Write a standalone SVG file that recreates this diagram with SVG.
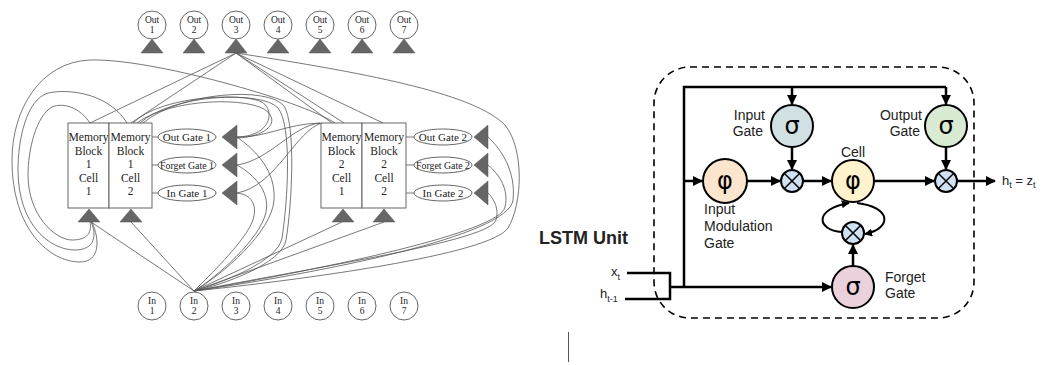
<svg xmlns="http://www.w3.org/2000/svg" width="1043" height="365" viewBox="0 0 1043 365">
<style>
.gl{fill:none;stroke:#555;stroke-width:0.8}
.nd{fill:#fff;stroke:#555;stroke-width:0.9}
.tri{fill:#666;stroke:#555;stroke-width:0.5}
.st{font-family:"Liberation Serif",serif;fill:#222;text-anchor:middle}
.sm{font-size:11px}
.xs{font-size:9.5px}
.mb{font-size:11.5px}
.ln{fill:none;stroke:#000;stroke-width:2.5}
.ls{font-family:"Liberation Sans",Arial,sans-serif;fill:#222}
.gate{stroke:#000;stroke-width:2}
.mul{fill:#cfe2f3;stroke:#000;stroke-width:2}
.sym{font-family:"DejaVu Sans",sans-serif;font-size:24px;text-anchor:middle;fill:#000}
</style>
<defs>
<marker id="ah" viewBox="0 0 10 10" refX="9" refY="5" markerWidth="4" markerHeight="4" orient="auto" markerUnits="strokeWidth"><path d="M0,0 L10,5 L0,10 z" fill="#000"/></marker>
</defs>
<rect width="1043" height="365" fill="#fff"/>

<!-- left connectors -->
<g id="connectors-left">
<path class="gl" d="M236,53 L90,123"/>
<path class="gl" d="M236,53 L131,123"/>
<path class="gl" d="M236,53 L332,123"/>
<path class="gl" d="M236,53 L344,123"/>
<path class="gl" d="M236,53 L383,123"/>
<path class="gl" d="M236,53 C380,75 475,95 505,125 C525,150 522,205 508,228 C490,255 300,280 194,291"/>
<path class="gl" d="M335,123 C300,100 150,58 90,60 C40,62 12,110 12,160 C12,230 50,262 80,262 C100,262 100,240 92,222"/>
<path class="gl" d="M127,123 C110,95 72,88 48,93 C26,100 18,140 18,170 C18,225 50,250 75,250 C95,250 97,235 91,222"/>
<path class="gl" d="M90,123 C80,108 64,102 52,107 C36,116 28,150 28,175 C28,215 55,240 72,240 C88,240 92,232 90,222"/>
<path class="gl" d="M133,123 C160,96 240,92 262,102 C275,110 272,136 237,137"/>
<path class="gl" d="M137,123 C170,98 252,96 268,112 C280,125 262,137 237,138"/>
<path class="gl" d="M140,123 C172,94 262,90 278,108 C292,125 288,200 282,238 C278,262 220,283 194,291"/>
<path class="gl" d="M143,123 C180,92 268,86 284,106 C296,125 292,205 286,240 C282,264 222,285 194,291"/>
<path class="gl" d="M237,137 C265,138 285,124 320,123"/>
<path class="gl" d="M237,165 C270,160 292,126 320,123"/>
<path class="gl" d="M237,193 C276,186 296,130 322,123"/>
<path class="gl" d="M237,137 C255,150 276,170 274,200 C272,232 222,275 194,291"/>
<path class="gl" d="M237,165 C255,175 270,192 266,212 C261,238 216,278 194,291"/>
<path class="gl" d="M237,193 C258,195 258,215 248,230 C236,250 205,280 194,291"/>
<path class="gl" d="M194,291 L91,222"/>
<path class="gl" d="M194,291 L131,222"/>
<path class="gl" d="M194,291 L342,222"/>
<path class="gl" d="M194,291 L384,222"/>
<path class="gl" d="M488,137 C502,150 516,172 513,200 C509,236 320,273 194,291"/>
<path class="gl" d="M488,165 C500,175 509,190 505,207 C500,232 330,268 194,291"/>
<path class="gl" d="M488,193 C495,200 499,210 496,220 C490,240 340,263 194,291"/>
<path class="gl" d="M152,137 H158 M152,165 H158 M152,193 H158 M406,137 H414 M406,165 H414 M406,193 H414"/>
</g>

<!-- Out nodes -->
<g id="out1"><circle class="nd" cx="152" cy="25" r="14"/><text class="st xs" x="152" y="22.5">Out<tspan x="152" dy="10.5">1</tspan></text><path class="tri" d="M152,39 L141,53 L163,53 z"/></g>
<g id="out2"><circle class="nd" cx="194" cy="25" r="14"/><text class="st xs" x="194" y="22.5">Out<tspan x="194" dy="10.5">2</tspan></text><path class="tri" d="M194,39 L183,53 L205,53 z"/></g>
<g id="out3"><circle class="nd" cx="236" cy="25" r="14"/><text class="st xs" x="236" y="22.5">Out<tspan x="236" dy="10.5">3</tspan></text><path class="tri" d="M236,39 L225,53 L247,53 z"/></g>
<g id="out4"><circle class="nd" cx="278" cy="25" r="14"/><text class="st xs" x="278" y="22.5">Out<tspan x="278" dy="10.5">4</tspan></text><path class="tri" d="M278,39 L267,53 L289,53 z"/></g>
<g id="out5"><circle class="nd" cx="320" cy="25" r="14"/><text class="st xs" x="320" y="22.5">Out<tspan x="320" dy="10.5">5</tspan></text><path class="tri" d="M320,39 L309,53 L331,53 z"/></g>
<g id="out6"><circle class="nd" cx="362" cy="25" r="14"/><text class="st xs" x="362" y="22.5">Out<tspan x="362" dy="10.5">6</tspan></text><path class="tri" d="M362,39 L351,53 L373,53 z"/></g>
<g id="out7"><circle class="nd" cx="404" cy="25" r="14"/><text class="st xs" x="404" y="22.5">Out<tspan x="404" dy="10.5">7</tspan></text><path class="tri" d="M404,39 L393,53 L415,53 z"/></g>

<!-- In nodes -->
<g id="in1"><circle class="nd" cx="152" cy="306" r="14"/><text class="st xs" x="152" y="303.5">In<tspan x="152" dy="10.5">1</tspan></text></g>
<g id="in2"><circle class="nd" cx="194" cy="306" r="14"/><text class="st xs" x="194" y="303.5">In<tspan x="194" dy="10.5">2</tspan></text></g>
<g id="in3"><circle class="nd" cx="236" cy="306" r="14"/><text class="st xs" x="236" y="303.5">In<tspan x="236" dy="10.5">3</tspan></text></g>
<g id="in4"><circle class="nd" cx="278" cy="306" r="14"/><text class="st xs" x="278" y="303.5">In<tspan x="278" dy="10.5">4</tspan></text></g>
<g id="in5"><circle class="nd" cx="320" cy="306" r="14"/><text class="st xs" x="320" y="303.5">In<tspan x="320" dy="10.5">5</tspan></text></g>
<g id="in6"><circle class="nd" cx="362" cy="306" r="14"/><text class="st xs" x="362" y="303.5">In<tspan x="362" dy="10.5">6</tspan></text></g>
<g id="in7"><circle class="nd" cx="404" cy="306" r="14"/><text class="st xs" x="404" y="303.5">In<tspan x="404" dy="10.5">7</tspan></text></g>

<!-- Memory blocks -->
<g id="mb1c1"><rect class="nd" x="68" y="123" width="41" height="85"/>
<text class="st mb" x="88.5" y="141"><tspan textLength="40" lengthAdjust="spacingAndGlyphs">Memory</tspan><tspan x="88.5" dy="13.5">Block</tspan><tspan x="88.5" dy="13.5">1</tspan><tspan x="88.5" dy="13.5">Cell</tspan><tspan x="88.5" dy="13.5">1</tspan></text>
<path class="tri" d="M89,209 L78,222 L100,222 z"/></g>
<g id="mb1c2"><rect class="nd" x="109" y="123" width="43" height="85"/>
<text class="st mb" x="130.5" y="141"><tspan textLength="40" lengthAdjust="spacingAndGlyphs">Memory</tspan><tspan x="130.5" dy="13.5">Block</tspan><tspan x="130.5" dy="13.5">1</tspan><tspan x="130.5" dy="13.5">Cell</tspan><tspan x="130.5" dy="13.5">2</tspan></text>
<path class="tri" d="M131,209 L120,222 L142,222 z"/></g>
<g id="mb2c1"><rect class="nd" x="321" y="123" width="41" height="85"/>
<text class="st mb" x="341.5" y="141"><tspan textLength="40" lengthAdjust="spacingAndGlyphs">Memory</tspan><tspan x="341.5" dy="13.5">Block</tspan><tspan x="341.5" dy="13.5">2</tspan><tspan x="341.5" dy="13.5">Cell</tspan><tspan x="341.5" dy="13.5">1</tspan></text>
<path class="tri" d="M343,209 L332,222 L354,222 z"/></g>
<g id="mb2c2"><rect class="nd" x="362" y="123" width="44" height="85"/>
<text class="st mb" x="384" y="141"><tspan textLength="40" lengthAdjust="spacingAndGlyphs">Memory</tspan><tspan x="384" dy="13.5">Block</tspan><tspan x="384" dy="13.5">2</tspan><tspan x="384" dy="13.5">Cell</tspan><tspan x="384" dy="13.5">2</tspan></text>
<path class="tri" d="M384,209 L373,222 L395,222 z"/></g>

<!-- Gates -->
<g id="outgate1"><ellipse class="nd" cx="187" cy="137" rx="29" ry="8"/><text class="st sm" x="187" y="141">Out Gate 1</text><path class="tri" d="M222,137 L237,125 L237,149 z"/></g>
<g id="forgetgate1"><ellipse class="nd" cx="187" cy="165" rx="29" ry="8"/><text class="st sm" x="187" y="169" textLength="54" lengthAdjust="spacingAndGlyphs">Forget Gate 1</text><path class="tri" d="M222,165 L237,153 L237,177 z"/></g>
<g id="ingate1"><ellipse class="nd" cx="187" cy="193" rx="29" ry="8"/><text class="st sm" x="187" y="197">In Gate 1</text><path class="tri" d="M222,193 L237,181 L237,205 z"/></g>
<g id="outgate2"><ellipse class="nd" cx="443" cy="137" rx="29" ry="8"/><text class="st sm" x="443" y="141">Out Gate 2</text><path class="tri" d="M474,137 L488,125 L488,149 z"/></g>
<g id="forgetgate2"><ellipse class="nd" cx="443" cy="165" rx="29" ry="8"/><text class="st sm" x="443" y="169" textLength="54" lengthAdjust="spacingAndGlyphs">Forget Gate 2</text><path class="tri" d="M474,165 L488,153 L488,177 z"/></g>
<g id="ingate2"><ellipse class="nd" cx="443" cy="193" rx="29" ry="8"/><text class="st sm" x="443" y="197">In Gate 2</text><path class="tri" d="M474,193 L488,181 L488,205 z"/></g>

<!-- LSTM unit -->
<g id="lstm-frame"><rect x="654" y="67" width="320" height="251" rx="36" fill="none" stroke="#000" stroke-width="1.6" stroke-dasharray="7,5"/></g>
<g id="lstm-connectors">
<path class="ln" d="M684,287 V87 H946"/>
<path class="ln" d="M792,87 V104" marker-end="url(#ah)"/>
<path class="ln" d="M946,87 V104" marker-end="url(#ah)"/>
<path class="ln" d="M684,181 H702" marker-end="url(#ah)"/>
<path class="ln" d="M747,181 H780" marker-end="url(#ah)"/>
<path class="ln" d="M792,147 V169" marker-end="url(#ah)"/>
<path class="ln" d="M803,181 H831" marker-end="url(#ah)"/>
<path class="ln" d="M874,181 H934" marker-end="url(#ah)"/>
<path class="ln" d="M946,147 V169" marker-end="url(#ah)"/>
<path class="ln" d="M957,181 H995" marker-end="url(#ah)"/>
<path class="ln" d="M853,266 V245" marker-end="url(#ah)"/>
<path fill="none" stroke="#000" stroke-width="2" d="M842,232 C816,230 814,209 849,203" marker-end="url(#ah)"/>
<path fill="none" stroke="#000" stroke-width="2" d="M857,203 C891,207 893,228 865,234" marker-end="url(#ah)"/>
<path class="ln" d="M627,273 H670 V299 H625"/>
<path class="ln" d="M670,287 H831" marker-end="url(#ah)"/>
</g>
<g id="input-gate"><circle class="gate" cx="792" cy="126" r="21" fill="#d0e0e3"/><text class="sym" x="792" y="134">σ</text><text class="ls" font-size="14" text-anchor="end" x="765" y="120">Input<tspan x="763" dy="16">Gate</tspan></text></g>
<g id="output-gate"><circle class="gate" cx="946" cy="126" r="21" fill="#d9ead3"/><text class="sym" x="946" y="134">σ</text><text class="ls" font-size="14" text-anchor="end" x="922" y="120">Output<tspan x="920" dy="16">Gate</tspan></text></g>
<g id="input-modulation"><circle class="gate" cx="725" cy="181" r="22" fill="#fce5cd"/><text class="sym" x="725" y="189">φ</text><text class="ls" font-size="14" x="704" y="214">Input<tspan x="704" dy="17">Modulation</tspan><tspan x="704" dy="17">Gate</tspan></text></g>
<g id="mult-input"><circle class="mul" cx="792" cy="181" r="11"/><path d="M784.2,173.2 L799.8,188.8 M799.8,173.2 L784.2,188.8" stroke="#000" stroke-width="1.5"/></g>
<g id="cell"><circle class="gate" cx="853" cy="181" r="21" fill="#fff2cc"/><text class="sym" x="853" y="189">φ</text><text class="ls" font-size="14" text-anchor="middle" x="853" y="157">Cell</text></g>
<g id="mult-output"><circle class="mul" cx="946" cy="181" r="11"/><path d="M938.2,173.2 L953.8,188.8 M953.8,173.2 L938.2,188.8" stroke="#000" stroke-width="1.5"/></g>
<g id="mult-forget"><circle class="mul" cx="853" cy="233" r="11"/><path d="M845.2,225.2 L860.8,240.8 M860.8,225.2 L845.2,240.8" stroke="#000" stroke-width="1.5"/></g>
<g id="forget-gate"><circle class="gate" cx="853" cy="287" r="21" fill="#ead1dc"/><text class="sym" x="853" y="295">σ</text><text class="ls" font-size="14" x="885" y="282">Forget<tspan x="885" dy="16">Gate</tspan></text></g>
<g id="labels">
<text class="ls" font-size="13" x="1002" y="185">h<tspan font-size="9" dy="3">t</tspan><tspan dy="-3"> = z</tspan><tspan font-size="9" dy="3">t</tspan></text>
<text class="ls" font-size="13" x="611" y="276">x<tspan font-size="9" dy="4">t</tspan></text>
<text class="ls" font-size="13" x="600" y="298">h<tspan font-size="9" dy="4">t-1</tspan></text>
<text class="ls" font-size="18" font-weight="bold" text-anchor="end" x="628" y="244">LSTM Unit</text>
</g>
<line x1="568.5" y1="332" x2="568.5" y2="362" stroke="#555" stroke-width="1"/>
</svg>
